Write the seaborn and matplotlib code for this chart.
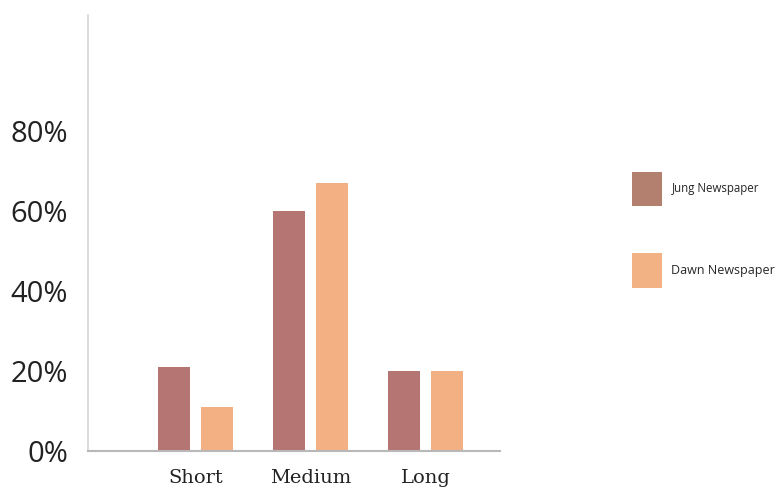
import matplotlib
matplotlib.use("Agg")
import matplotlib.pyplot as plt
from matplotlib.patches import Patch
import seaborn as sns
import pandas as pd

# Reading lengths and the share of articles in each length class
categories = ["Short", "Medium", "Long"]
jung_share = [21, 60, 20]
dawn_share = [11, 67, 20]
series_names = ["Jung Newspaper", "Dawn Newspaper"]
y_ticks = [0, 20, 40, 60, 80]
y_tick_labels = ["0%", "20%", "40%", "60%", "80%"]

jung_color = "#B57573"
dawn_color = "#F2B083"
jung_legend_color = "#B3806F"
dawn_legend_color = "#F3B283"

df = pd.DataFrame({
    "length": categories * 2,
    "share": jung_share + dawn_share,
    "paper": [series_names[0]] * 3 + [series_names[1]] * 3,
})

sns.set_style("white")
plt.rcParams["font.family"] = ["Open Sans", "DejaVu Sans"]

fig = plt.figure(figsize=(7.77, 4.87), dpi=100)
ax = fig.add_axes([0.113, 0.074, 0.531, 0.895])

sns.barplot(
    data=df, x="length", y="share", hue="paper",
    palette=[jung_color, dawn_color], order=categories,
    hue_order=series_names, width=0.75, gap=0.26,
    saturation=1, legend=False, linewidth=0, ax=ax,
)

ax.set_xlim(-0.935, 2.648)
ax.set_ylim(0, 109)
ax.set_yticks(y_ticks)
ax.set_yticklabels(y_tick_labels, fontsize=21, color="#222222")
ax.set_xticks(range(len(categories)))
ax.set_xticklabels(categories, fontsize=14, color="#222222",
                   family=["DejaVu Serif"])
ax.tick_params(axis="y", length=0, pad=14)
ax.tick_params(axis="x", length=0, pad=13)
ax.set_xlabel("")
ax.set_ylabel("")

for side in ("top", "right"):
    ax.spines[side].set_visible(False)
ax.spines["left"].set_color("#d6d6d6")
ax.spines["left"].set_linewidth(1.2)
ax.spines["bottom"].set_color("#b8b8b8")
ax.spines["bottom"].set_linewidth(1.5)

handles = [Patch(facecolor=jung_legend_color, edgecolor="none"),
           Patch(facecolor=dawn_legend_color, edgecolor="none")]
leg = fig.legend(
    handles, series_names, loc="upper left",
    bbox_to_anchor=(0.813, 0.647), frameon=False, fontsize=8.3,
    handlelength=2.6, handleheight=4.2, labelspacing=4.1,
    handletextpad=0.85, borderaxespad=0, borderpad=0,
)
leg.get_texts()[1].set_fontsize(9)

fig.savefig("out.png", dpi=100)
